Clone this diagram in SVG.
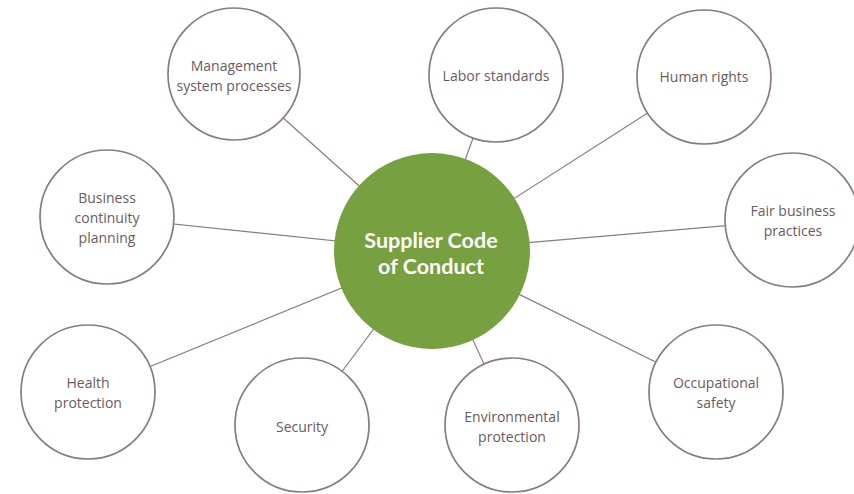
<svg xmlns="http://www.w3.org/2000/svg" width="854" height="494" viewBox="0 0 854 494">
<style>
.c{fill:#fff;stroke:#8a7b80;stroke-width:1.7}
.t{font-family:"Open Sans","Noto Sans",sans-serif;font-size:14px;fill:#6a5a60;text-anchor:middle}
.l{stroke:#8a7b80;stroke-width:1.2}
.h{font-family:Lato,"Open Sans",sans-serif;font-size:21.5px;font-weight:700;fill:#fff;text-anchor:middle}
</style>
<rect width="854" height="494" fill="#fff"/>
<g id="connectors">
<line class="l" x1="432" y1="251" x2="234" y2="74"/>
<line class="l" x1="432" y1="251" x2="496" y2="75"/>
<line class="l" x1="432" y1="251" x2="704" y2="77"/>
<line class="l" x1="432" y1="251" x2="792" y2="220"/>
<line class="l" x1="432" y1="251" x2="107" y2="217"/>
<line class="l" x1="432" y1="251" x2="88" y2="392"/>
<line class="l" x1="432" y1="251" x2="302" y2="425"/>
<line class="l" x1="432" y1="251" x2="512" y2="425"/>
<line class="l" x1="432" y1="251" x2="716" y2="392"/>
</g>
<g id="center">
<circle cx="432" cy="251" r="98" fill="#77a140"/>
<text class="h" x="431" y="247.5">Supplier Code</text>
<text class="h" x="431" y="274">of Conduct</text>
</g>
<g id="management">
<circle class="c" cx="234" cy="74" r="66"/>
<text class="t" x="234" y="71">Management</text>
<text class="t" x="234" y="91">system processes</text>
</g>
<g id="labor">
<circle class="c" cx="496" cy="75" r="67"/>
<text class="t" x="496" y="81">Labor standards</text>
</g>
<g id="human">
<circle class="c" cx="704" cy="77" r="67"/>
<text class="t" x="704" y="82">Human rights</text>
</g>
<g id="fair">
<circle class="c" cx="792" cy="220" r="67"/>
<text class="t" x="793" y="216">Fair business</text>
<text class="t" x="793" y="236">practices</text>
</g>
<g id="business">
<circle class="c" cx="107" cy="217" r="67"/>
<text class="t" x="107" y="203">Business</text>
<text class="t" x="107" y="223">continuity</text>
<text class="t" x="107" y="243">planning</text>
</g>
<g id="health">
<circle class="c" cx="88" cy="392" r="67"/>
<text class="t" x="88" y="388">Health</text>
<text class="t" x="88" y="408">protection</text>
</g>
<g id="security">
<circle class="c" cx="302" cy="425" r="67"/>
<text class="t" x="302" y="432">Security</text>
</g>
<g id="environmental">
<circle class="c" cx="512" cy="425" r="67"/>
<text class="t" x="512" y="422">Environmental</text>
<text class="t" x="512" y="442">protection</text>
</g>
<g id="occupational">
<circle class="c" cx="716" cy="392" r="67"/>
<text class="t" x="716" y="388">Occupational</text>
<text class="t" x="716" y="408">safety</text>
</g>
</svg>
